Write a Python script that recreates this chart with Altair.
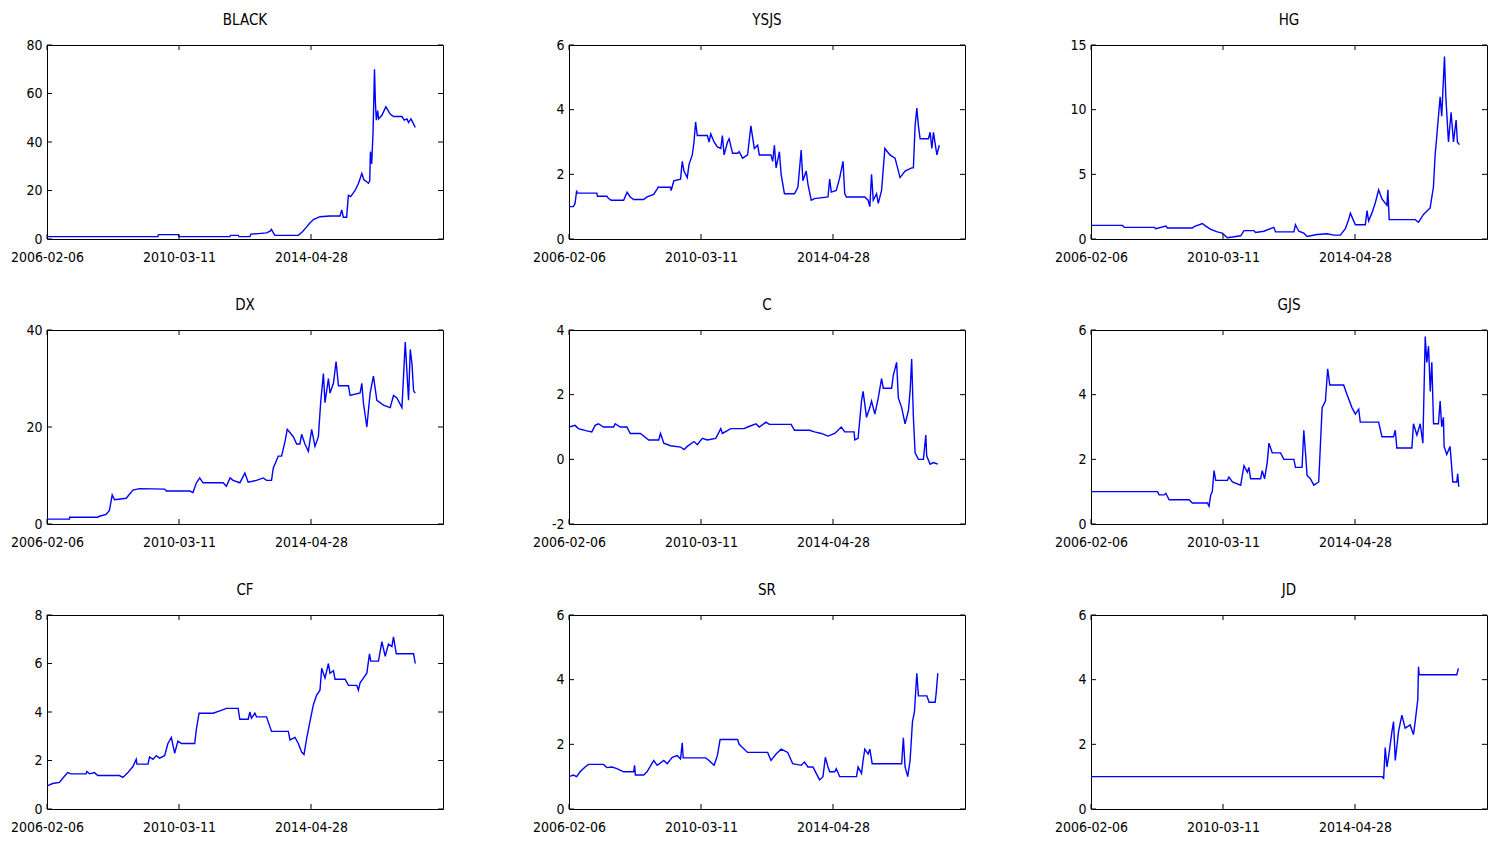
import altair as alt
import pandas as pd

FONT = "DejaVu Sans Condensed, Liberation Sans, sans-serif"
FS = 14

X_TICKS = [0, 1000, 2000]
X_TICK_LABELS = ["2006-02-06", "2010-03-11", "2014-04-28"]
X_MAX = 3000

NAMES = ["BLACK", "YSJS", "HG", "DX", "C", "GJS", "CF", "SR", "JD"]

BLACK_IDX = [0, 840, 845, 995, 1000, 1385, 1390, 1448, 1455, 1537, 1545, 1600, 1663, 1690, 1700, 1715, 1727, 1904, 1935, 1967, 1990, 2018, 2068, 2144, 2220, 2233, 2245, 2270, 2283, 2300, 2334, 2360, 2385, 2400, 2435, 2445, 2450, 2460, 2470, 2481, 2488, 2495, 2505, 2512, 2537, 2567, 2600, 2625, 2689, 2706, 2727, 2739, 2757, 2772, 2790]
BLACK_VAL = [1.0, 1.0, 1.8, 1.8, 1.0, 1.0, 1.5, 1.5, 1.0, 1.0, 2.0, 2.2, 2.5, 3.2, 4.0, 2.5, 1.5, 1.5, 3.0, 5.0, 6.5, 8.0, 9.2, 9.5, 9.5, 12.0, 9.0, 9.0, 18.0, 17.5, 20.0, 23.0, 27.0, 24.5, 23.0, 24.0, 36.0, 31.0, 44.0, 70.0, 56.0, 49.0, 53.0, 49.5, 51.0, 54.5, 51.5, 50.5, 50.5, 49.0, 49.5, 48.0, 49.5, 48.0, 46.0]

YSJS_IDX = [0, 33, 46, 58, 62, 211, 216, 287, 300, 320, 414, 440, 464, 490, 566, 591, 642, 668, 675, 769, 774, 794, 845, 858, 871, 896, 909, 934, 947, 959, 972, 1048, 1061, 1074, 1099, 1124, 1150, 1162, 1175, 1201, 1213, 1239, 1277, 1289, 1315, 1353, 1378, 1404, 1429, 1442, 1530, 1543, 1556, 1569, 1594, 1607, 1632, 1708, 1734, 1759, 1772, 1797, 1810, 1835, 1860, 1962, 1975, 1987, 2025, 2051, 2076, 2089, 2102, 2241, 2266, 2279, 2292, 2305, 2330, 2343, 2368, 2393, 2431, 2470, 2508, 2546, 2596, 2609, 2622, 2635, 2647, 2660, 2723, 2736, 2749, 2761, 2787, 2805]
YSJS_VAL = [1.0, 1.0, 1.1, 1.5, 1.42, 1.42, 1.32, 1.32, 1.25, 1.2, 1.2, 1.45, 1.3, 1.22, 1.22, 1.3, 1.38, 1.55, 1.6, 1.6, 1.5, 1.8, 1.85, 2.4, 2.1, 1.9, 2.3, 2.6, 3.0, 3.62, 3.2, 3.2, 3.0, 3.25, 3.0, 2.85, 2.8, 3.2, 2.6, 3.0, 3.1, 2.65, 2.65, 2.7, 2.5, 2.6, 3.5, 2.8, 2.9, 2.6, 2.6, 2.4, 2.9, 2.2, 2.7, 2.0, 1.4, 1.4, 1.6, 2.75, 1.8, 2.1, 1.7, 1.2, 1.25, 1.3, 1.85, 1.45, 1.5, 1.9, 2.4, 1.4, 1.3, 1.3, 1.2, 1.0, 2.0, 1.2, 1.4, 1.1, 1.5, 2.8, 2.6, 2.5, 1.9, 2.1, 2.2, 2.2, 3.5, 4.05, 3.5, 3.1, 3.1, 3.3, 2.8, 3.3, 2.6, 2.9]

HG_IDX = [0, 239, 252, 479, 491, 567, 579, 768, 781, 844, 869, 907, 957, 995, 1033, 1071, 1134, 1159, 1234, 1247, 1310, 1385, 1398, 1537, 1549, 1574, 1612, 1637, 1713, 1788, 1839, 1889, 1927, 1952, 1965, 1990, 2003, 2078, 2091, 2103, 2128, 2154, 2179, 2204, 2242, 2249, 2259, 2456, 2481, 2494, 2519, 2569, 2594, 2607, 2620, 2645, 2657, 2678, 2688, 2708, 2728, 2746, 2766, 2776, 2791]
HG_VAL = [1.05, 1.05, 0.9, 0.9, 0.8, 1.0, 0.85, 0.85, 0.95, 1.2, 1.0, 0.75, 0.55, 0.45, 0.1, 0.15, 0.25, 0.65, 0.65, 0.5, 0.6, 0.9, 0.55, 0.55, 1.1, 0.6, 0.45, 0.2, 0.35, 0.4, 0.3, 0.3, 0.8, 1.5, 2.0, 1.4, 1.1, 1.1, 2.2, 1.4, 2.0, 2.8, 3.8, 3.1, 2.6, 3.8, 1.5, 1.5, 1.3, 1.5, 1.9, 2.4, 4.0, 6.5, 8.0, 11.0, 9.5, 14.1, 11.0, 7.5, 9.8, 7.5, 9.2, 7.5, 7.3]

DX_IDX = [0, 170, 172, 385, 397, 448, 473, 494, 511, 600, 651, 701, 891, 904, 1081, 1106, 1132, 1157, 1182, 1334, 1359, 1387, 1410, 1461, 1499, 1524, 1587, 1638, 1663, 1701, 1714, 1752, 1777, 1803, 1820, 1866, 1891, 1916, 1929, 1954, 1980, 2005, 2030, 2056, 2073, 2094, 2106, 2132, 2144, 2170, 2190, 2208, 2284, 2296, 2372, 2385, 2397, 2423, 2448, 2473, 2499, 2549, 2600, 2625, 2651, 2689, 2714, 2739, 2752, 2765, 2777, 2790]
DX_VAL = [1.0, 1.0, 1.4, 1.4, 1.6, 2.0, 2.8, 6.0, 5.0, 5.3, 7.0, 7.3, 7.2, 6.8, 6.8, 6.5, 8.5, 9.5, 8.5, 8.5, 7.8, 9.5, 9.0, 8.5, 10.5, 8.6, 9.0, 9.5, 9.0, 9.0, 11.5, 14.0, 14.0, 17.0, 19.5, 18.0, 16.5, 16.5, 18.5, 16.5, 15.0, 19.5, 16.0, 18.0, 25.0, 31.0, 25.0, 30.0, 27.0, 29.0, 33.5, 28.5, 28.5, 26.5, 27.0, 29.0, 25.0, 20.0, 27.0, 30.5, 25.5, 24.5, 24.0, 26.5, 26.0, 24.0, 37.5, 25.5, 36.0, 33.0, 27.5, 27.0]

C_IDX = [0, 46, 71, 135, 173, 198, 223, 261, 338, 350, 388, 439, 464, 541, 604, 680, 693, 718, 769, 845, 871, 896, 947, 972, 1010, 1048, 1112, 1150, 1162, 1226, 1327, 1353, 1416, 1442, 1492, 1518, 1683, 1708, 1822, 1860, 1911, 1962, 2013, 2063, 2089, 2160, 2165, 2190, 2216, 2228, 2254, 2279, 2292, 2317, 2343, 2368, 2381, 2444, 2457, 2482, 2495, 2520, 2546, 2571, 2584, 2596, 2609, 2622, 2647, 2685, 2703, 2710, 2736, 2761, 2794]
C_VAL = [1.0, 1.05, 0.95, 0.88, 0.85, 1.05, 1.1, 1.0, 1.0, 1.1, 1.0, 1.0, 0.8, 0.8, 0.6, 0.6, 0.8, 0.5, 0.42, 0.38, 0.3, 0.4, 0.55, 0.45, 0.65, 0.6, 0.65, 0.95, 0.8, 0.95, 0.95, 1.0, 1.1, 1.0, 1.15, 1.08, 1.08, 0.9, 0.9, 0.85, 0.8, 0.72, 0.8, 1.0, 0.85, 0.85, 0.6, 0.65, 1.8, 2.1, 1.3, 1.6, 1.8, 1.4, 1.9, 2.5, 2.2, 2.2, 2.6, 3.0, 1.9, 1.6, 1.1, 1.5, 2.1, 3.1, 1.3, 0.2, 0.0, 0.0, 0.75, 0.1, -0.15, -0.1, -0.15]

GJS_IDX = [0, 504, 516, 554, 567, 592, 743, 768, 882, 894, 907, 919, 932, 945, 1033, 1045, 1071, 1134, 1146, 1159, 1184, 1196, 1209, 1285, 1297, 1315, 1335, 1348, 1373, 1436, 1461, 1537, 1549, 1599, 1612, 1625, 1637, 1662, 1688, 1725, 1751, 1776, 1793, 1809, 1914, 1940, 1977, 2003, 2028, 2040, 2179, 2204, 2292, 2305, 2317, 2431, 2443, 2469, 2494, 2514, 2519, 2532, 2544, 2557, 2570, 2582, 2595, 2632, 2645, 2657, 2670, 2675, 2695, 2720, 2728, 2741, 2771, 2778, 2786]
GJS_VAL = [1.0, 1.0, 0.9, 0.9, 0.95, 0.75, 0.75, 0.65, 0.65, 0.55, 0.9, 1.0, 1.65, 1.35, 1.35, 1.45, 1.3, 1.2, 1.5, 1.8, 1.6, 1.75, 1.4, 1.4, 1.65, 1.4, 1.9, 2.5, 2.2, 2.2, 2.0, 2.0, 1.75, 1.75, 2.9, 2.2, 1.5, 1.4, 1.2, 1.3, 3.6, 3.8, 4.8, 4.3, 4.3, 4.0, 3.6, 3.4, 3.55, 3.15, 3.15, 2.7, 2.7, 2.9, 2.35, 2.35, 3.1, 2.75, 3.1, 2.5, 3.4, 5.8, 5.0, 5.5, 4.1, 5.0, 3.1, 3.1, 3.8, 3.0, 3.3, 2.4, 2.15, 2.4, 2.0, 1.3, 1.3, 1.55, 1.15]

CF_IDX = [0, 43, 94, 132, 157, 182, 296, 301, 322, 359, 385, 549, 575, 613, 651, 676, 681, 765, 777, 803, 828, 853, 891, 916, 942, 967, 992, 1018, 1119, 1132, 1152, 1258, 1309, 1359, 1448, 1461, 1524, 1537, 1549, 1575, 1587, 1663, 1701, 1828, 1841, 1879, 1904, 1929, 1947, 1967, 1992, 2018, 2043, 2068, 2081, 2106, 2132, 2144, 2170, 2182, 2258, 2284, 2347, 2359, 2372, 2397, 2423, 2443, 2453, 2511, 2537, 2562, 2587, 2613, 2625, 2646, 2777, 2790]
CF_VAL = [0.95, 1.05, 1.1, 1.35, 1.5, 1.45, 1.45, 1.55, 1.45, 1.5, 1.38, 1.38, 1.3, 1.5, 1.75, 2.05, 1.85, 1.85, 2.15, 2.05, 2.2, 2.1, 2.2, 2.7, 2.95, 2.3, 2.8, 2.7, 2.7, 3.3, 3.95, 3.95, 4.05, 4.15, 4.15, 3.7, 3.7, 4.0, 3.75, 3.95, 3.8, 3.8, 3.2, 3.2, 2.85, 2.95, 2.7, 2.35, 2.25, 2.9, 3.6, 4.3, 4.7, 4.9, 5.8, 5.4, 6.0, 5.6, 5.7, 5.35, 5.35, 5.1, 5.1, 4.9, 5.2, 5.4, 5.6, 6.4, 6.1, 6.1, 6.9, 6.3, 6.8, 6.7, 7.1, 6.4, 6.4, 6.0]

SR_IDX = [0, 33, 58, 84, 122, 147, 261, 287, 325, 363, 414, 490, 497, 503, 566, 591, 642, 668, 718, 744, 782, 820, 845, 858, 865, 1036, 1061, 1099, 1124, 1145, 1277, 1289, 1353, 1505, 1530, 1569, 1607, 1657, 1695, 1759, 1784, 1810, 1848, 1873, 1898, 1924, 1942, 1962, 1975, 2013, 2025, 2051, 2178, 2190, 2216, 2228, 2241, 2266, 2279, 2297, 2520, 2533, 2546, 2566, 2584, 2602, 2617, 2635, 2647, 2711, 2728, 2774, 2782, 2794]
SR_VAL = [1.0, 1.05, 1.0, 1.15, 1.3, 1.38, 1.38, 1.28, 1.3, 1.25, 1.15, 1.15, 1.35, 1.05, 1.05, 1.15, 1.5, 1.35, 1.5, 1.4, 1.6, 1.65, 1.55, 2.05, 1.58, 1.58, 1.5, 1.35, 1.65, 2.15, 2.15, 2.0, 1.75, 1.75, 1.5, 1.7, 1.85, 1.75, 1.4, 1.35, 1.45, 1.3, 1.3, 1.1, 0.9, 1.0, 1.6, 1.3, 1.15, 1.15, 1.25, 1.0, 1.0, 1.3, 1.1, 1.5, 1.85, 1.7, 1.85, 1.4, 1.4, 2.2, 1.3, 1.0, 1.5, 2.7, 3.0, 4.2, 3.5, 3.5, 3.3, 3.3, 3.6, 4.2]

JD_IDX = [0, 2204, 2217, 2229, 2242, 2254, 2280, 2292, 2305, 2330, 2355, 2380, 2418, 2443, 2456, 2476, 2481, 2486, 2771, 2783]
JD_VAL = [1.0, 1.0, 0.95, 1.9, 1.3, 1.6, 2.4, 2.7, 1.5, 2.4, 2.9, 2.5, 2.6, 2.3, 2.7, 3.4, 4.4, 4.15, 4.15, 4.35]

Y_TICKS = {
    "BLACK": [0, 20, 40, 60, 80],
    "YSJS": [0, 2, 4, 6],
    "HG": [0, 5, 10, 15],
    "DX": [0, 20, 40],
    "C": [-2, 0, 2, 4],
    "GJS": [0, 2, 4, 6],
    "CF": [0, 2, 4, 6, 8],
    "SR": [0, 2, 4, 6],
    "JD": [0, 2, 4, 6],
}

SERIES = {
    "BLACK": (BLACK_IDX, BLACK_VAL),
    "YSJS": (YSJS_IDX, YSJS_VAL),
    "HG": (HG_IDX, HG_VAL),
    "DX": (DX_IDX, DX_VAL),
    "C": (C_IDX, C_VAL),
    "GJS": (GJS_IDX, GJS_VAL),
    "CF": (CF_IDX, CF_VAL),
    "SR": (SR_IDX, SR_VAL),
    "JD": (JD_IDX, JD_VAL),
}

W, H = 396, 194
TICK_LEN = 5

label_expr = "''"
for v, lab in reversed(list(zip(X_TICKS, X_TICK_LABELS))):
    label_expr = f"datum.value == {v} ? '{lab}' : ({label_expr})"


def panel(name):
    idx, val = SERIES[name]
    yticks = Y_TICKS[name]
    ydom = [yticks[0], yticks[-1]]
    df = pd.DataFrame({"idx": idx, "val": val})
    xscale = alt.Scale(domain=[0, X_MAX], nice=False, zero=False)
    yscale = alt.Scale(domain=ydom, nice=False, zero=False)
    xaxis = alt.Axis(values=X_TICKS, labelExpr=label_expr, title=None, grid=False,
                     ticks=False, domain=False, labelFlush=False, labelPadding=11,
                     labelFontSize=FS, labelFont=FONT, labelColor="black",
                     labelOverlap=False)
    yaxis = alt.Axis(values=yticks, title=None, grid=False, ticks=False, domain=False,
                     labelPadding=5, labelFontSize=FS, labelFont=FONT, labelColor="black",
                     labelOverlap=False, labelFlush=False,
                     labelExpr="'' + datum.value")
    line = alt.Chart(df).mark_line(color="#0000FF", strokeWidth=1.4, clip=True).encode(
        x=alt.X("idx:Q", scale=xscale, axis=xaxis),
        y=alt.Y("val:Q", scale=yscale, axis=yaxis),
    )
    ydf = pd.DataFrame({"val": yticks})
    xdf = pd.DataFrame({"idx": X_TICKS})
    left = alt.Chart(ydf).mark_rule(color="black", strokeWidth=1).encode(
        y=alt.Y("val:Q", scale=yscale, axis=yaxis), x=alt.value(0), x2=alt.value(TICK_LEN))
    right = alt.Chart(ydf).mark_rule(color="black", strokeWidth=1).encode(
        y=alt.Y("val:Q", scale=yscale, axis=yaxis), x=alt.value(W - TICK_LEN), x2=alt.value(W))
    top = alt.Chart(xdf).mark_rule(color="black", strokeWidth=1).encode(
        x=alt.X("idx:Q", scale=xscale, axis=xaxis), y=alt.value(0), y2=alt.value(TICK_LEN))
    bottom = alt.Chart(xdf).mark_rule(color="black", strokeWidth=1).encode(
        x=alt.X("idx:Q", scale=xscale, axis=xaxis), y=alt.value(H - TICK_LEN), y2=alt.value(H))
    return alt.layer(line, left, right, top, bottom).properties(
        width=W, height=H,
        title=alt.TitleParams(name, fontSize=FS + 1, font=FONT, fontWeight="normal",
                              color="black", offset=10),
    )


chart = alt.concat(
    *[panel(n) for n in NAMES],
    columns=3,
    spacing={"row": 91, "column": 126},
    bounds="flush",
).properties(
    padding={"left": 1, "top": 4, "right": 2, "bottom": 2},
    background="white",
).configure_view(
    stroke="black", strokeWidth=1
)

chart.save("out.html", embed_options={"renderer": "svg", "actions": False})
